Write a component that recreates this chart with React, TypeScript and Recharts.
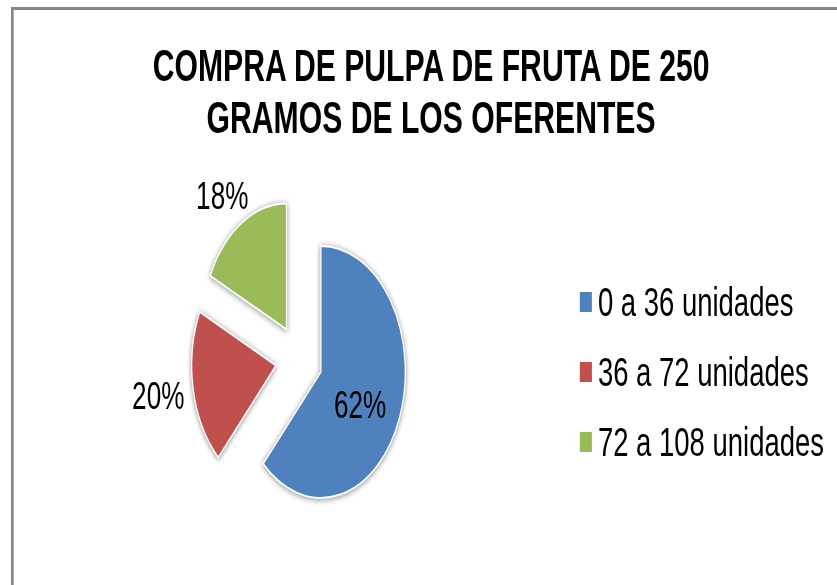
import React from "react";
import { PieChart, Pie, Cell, Legend, Sector, Tooltip } from "recharts";

const categories = ["0 a 36 unidades", "36 a 72 unidades", "72 a 108 unidades"];
const shares = [62, 20, 18];
const colors = ["#4F81BD", "#C0504D", "#9BBB59"];

const title = ["COMPRA DE PULPA DE FRUTA DE 250", "GRAMOS DE LOS OFERENTES"];

const data = categories.map((name, i) => ({ name, value: shares[i] }));

// the original picture is squeezed horizontally, so draw wide and squeeze
const SQUEEZE = 0.67;
const W = 1233;
const H = 578;
const EXPLODE = 35;
const RAD = Math.PI / 180;
const FONT = '"Liberation Sans", Arial, sans-serif';

const explodedCenter = (cx: number, cy: number, midAngle: number) => {
  const a = -midAngle * RAD;
  return { x: cx + EXPLODE * Math.cos(a), y: cy + EXPLODE * Math.sin(a), a };
};

const renderSlice = (props: any) => {
  const c = explodedCenter(props.cx, props.cy, props.midAngle);
  return (
    <g style={{ filter: "drop-shadow(0px 1px 3px rgba(0,0,0,0.45))" }}>
      <Sector
        cx={c.x}
        cy={c.y}
        innerRadius={props.innerRadius}
        outerRadius={props.outerRadius}
        startAngle={props.startAngle}
        endAngle={props.endAngle}
        fill={props.fill}
        stroke="#ffffff"
        strokeWidth={2}
      />
    </g>
  );
};

// outside labels sit next to the slice like Excel's best fit: box edge a few px off the arc
const renderLabel = (props: any) => {
  const { cx, cy, midAngle, outerRadius, percent } = props;
  const c = explodedCenter(cx, cy, midAngle);
  const cos = Math.cos(c.a);
  const sin = Math.sin(c.a);
  let x, y;
  if (percent > 0.5) {
    x = c.x + outerRadius * 0.5 * cos;
    y = c.y + outerRadius * 0.5 * sin + 9;
  } else {
    const r = outerRadius + 13;
    x = c.x + r * cos + cos * 40;
    y = c.y + r * sin + sin * 20;
  }
  return (
    <text
      x={x}
      y={y}
      textAnchor="middle"
      dominantBaseline="central"
      fill="#000"
      fontSize={39}
      fontFamily={FONT}
    >
      {`${Math.round(percent * 100)}%`}
    </text>
  );
};

const renderLegend = (props: any) => (
  <div>
    {(props.payload || []).map((entry: any) => (
      <div key={entry.value} style={{ display: "flex", alignItems: "center", height: 70 }}>
        <span style={{ width: 18, height: 20, background: entry.color, marginRight: 9, flexShrink: 0 }} />
        <span style={{ fontSize: 41, fontFamily: FONT, color: "#000", whiteSpace: "nowrap" }}>{entry.value}</span>
      </div>
    ))}
  </div>
);

export default function App() {
  return (
    <div
      style={{
        position: "absolute",
        left: 11,
        top: 7,
        width: W,
        height: H,
        transform: `scaleX(${SQUEEZE})`,
        transformOrigin: "0 0",
        background: "#fff",
      }}
    >
      <div
        style={{
          position: "absolute",
          left: 0,
          top: 0,
          width: W,
          height: H,
          borderTop: "3px solid #878787",
          borderLeft: "4px solid #878787",
          boxSizing: "border-box",
        }}
      />
      <div
        style={{
          position: "absolute",
          left: 0,
          top: 33,
          width: 1254,
          textAlign: "center",
          fontFamily: FONT,
          fontWeight: "bold",
          fontSize: 45,
          lineHeight: "52px",
          color: "#000",
        }}
      >
        {title.map((t) => (
          <div key={t}>{t}</div>
        ))}
      </div>
      <PieChart width={W} height={H} style={{ position: "absolute", left: 0, top: 0 }}>
        <Pie
          data={data}
          dataKey="value"
          nameKey="name"
          cx={425}
          cy={347}
          outerRadius={126}
          startAngle={90}
          endAngle={-270}
          isAnimationActive={false}
          labelLine={false}
          label={renderLabel}
          shape={renderSlice}
          activeShape={renderSlice}
          inactiveShape={renderSlice}
        >
          {data.map((d, i) => (
            <Cell key={d.name} fill={colors[i]} />
          ))}
        </Pie>
        <Tooltip defaultIndex={0} content={() => null} cursor={false} />
        <Legend
          layout="vertical"
          content={renderLegend}
          wrapperStyle={{ left: 849, top: 260, width: 380 }}
        />
      </PieChart>
    </div>
  );
}
